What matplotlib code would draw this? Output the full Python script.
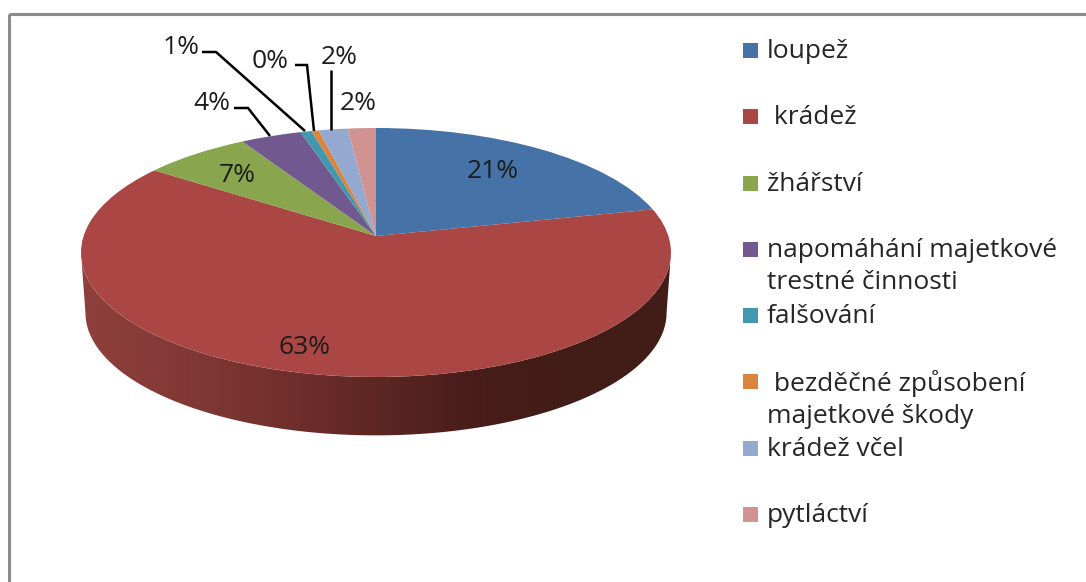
import numpy as np
import matplotlib
matplotlib.use("Agg")
import matplotlib.pyplot as plt
from matplotlib.patches import Rectangle, Polygon
from matplotlib.transforms import Transform

categories = ["loupež", " krádež", "žhářství", "napomáhání majetkové\ntrestné činnosti",
              "falšování", " bezděčné způsobení\nmajetkové škody", "krádež včel", "pytláctví"]
values = [21.4, 63.4, 6.7, 3.8, 0.7, 0.45, 1.8, 1.75]
colors = ["#4572A7", "#AA4643", "#89A54E", "#71588F", "#4198AF", "#DB843D", "#93A9CF", "#D19392"]
labels = [f"{round(v)}%" if v >= 0.5 else "0%" for v in values]

W, H = 1086, 582
CX, CY, A, B, K = 376.0, 236.0, 292.4, 122.3, 0.1325


class Persp(Transform):
    """Tilted disc: pie coordinates to pixel-sized data coordinates."""
    input_dims = 2
    output_dims = 2
    is_separable = False

    def __init__(self, cx=CX, cy=CY, scale=1.0):
        super().__init__()
        self.cx, self.cy, self.scale = cx, cy, scale

    def transform_non_affine(self, xy):
        xy = np.asarray(xy, float)
        d = 1 + K * xy[:, 1]
        return np.column_stack([self.cx + self.scale * A * xy[:, 0] / d,
                                self.cy - self.scale * B * xy[:, 1] / d])


fig = plt.figure(figsize=(W / 100, H / 100), dpi=100, facecolor="white")
ax = fig.add_axes([0, 0, 1, 1])
plt.rcParams["font.family"] = ["Open Sans", "DejaVu Sans"]

wedges, _ = ax.pie(values, colors=colors, startangle=90, counterclock=False, radius=1.0)
ax.set_aspect("auto")
ax.set_xlim(0, W)
ax.set_ylim(H, 0)
ax.set_xticks([])
ax.set_yticks([])
ax.set_frame_on(False)
top = Persp()
for w in wedges:
    w.set_transform(top + ax.transData)
    w.set_clip_on(False)
    w.set_zorder(3)
    w.set_linewidth(0)

# front wall of the disc, shaded left to right
t = np.radians(np.linspace(7.6, 172.4, 200))
rim = np.column_stack([np.cos(t), -np.sin(t)])
upper = top.transform(rim)
lower = Persp(cy=296.5, scale=0.985).transform(rim)
wall = Polygon(np.vstack([upper, lower[::-1]]), closed=True, transform=ax.transData, fc="none", ec="none")
ax.add_patch(wall)
stops = np.array([[82, 142, 64, 60], [200, 128, 56, 52], [300, 110, 46, 43],
                  [400, 88, 36, 33], [470, 72, 29, 26], [560, 66, 28, 23], [670, 66, 28, 23]], float)
xs = np.arange(80, 674)
grad = np.stack([np.interp(xs, stops[:, 0], stops[:, i]) for i in (1, 2, 3)], axis=-1)[None, :, :] / 255
im = ax.imshow(grad, extent=(80, 674, 440, 240), aspect="auto", zorder=2, interpolation="nearest")
im.set_clip_path(wall)
ax.set_xlim(0, W)
ax.set_ylim(H, 0)

# leader lines
line_kw = dict(color="black", lw=1.8, zorder=4, solid_joinstyle="miter", solid_capstyle="butt")
ax.plot([202, 216, 305], [52, 52, 131], **line_kw)
ax.plot([295, 307, 314], [65, 65, 131], **line_kw)
ax.plot([331, 331], [70, 130], **line_kw)
ax.plot([234, 248, 270], [108, 108, 136], **line_kw)

# percentage labels
label_pos = [(493, 172), (304, 347), (237, 175), (212, 104), (181, 48), (270, 61), (339, 57), (358, 103)]
for (x, y), s in zip(label_pos, labels):
    ax.text(x, y, s, fontsize=19, color="#1c1c1c", ha="center", va="center", zorder=5)

# legend
legend_y = [50, 116, 183, 249, 315, 381, 448, 514]
for yy, c, name in zip(legend_y, colors, categories):
    ax.add_patch(Rectangle((743, yy - 7.5), 15, 15, fc=c, ec="none", zorder=5))
    ax.text(767, yy - 11, name, fontsize=19, color="#262626", ha="left", va="top",
            linespacing=1.38, zorder=5)

# outer frame
ax.add_patch(Rectangle((8.5, 14), W, H, fc="none", ec="#8c8c8c", lw=2.2, clip_on=True, zorder=6))

fig.savefig("out.png", dpi=100)
